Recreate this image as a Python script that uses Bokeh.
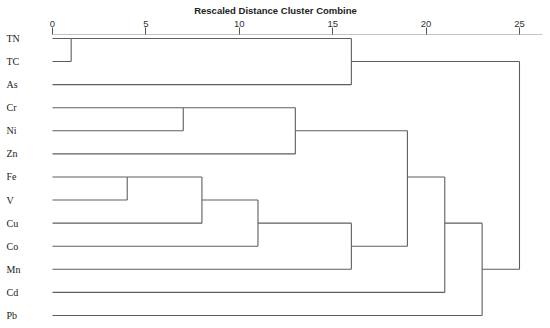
from bokeh.plotting import figure
from bokeh.models import Range1d, LinearAxis, FixedTicker, ColumnDataSource
from bokeh.core.properties import value
from bokeh.embed import file_html
from bokeh.resources import INLINE

# ---- data ----
leaves = ["TN", "TC", "As", "Cr", "Ni", "Zn", "Fe", "V", "Cu", "Co", "Mn", "Cd", "Pb"]
# agglomeration schedule: cluster A, cluster B (leaf name or "m<i>" for i-th merge), rescaled distance
merge_a = ["TN", "Fe", "Cr", "m1", "m3", "m2", "m0", "m4", "m5", "m8", "m9", "m6"]
merge_b = ["TC", "V", "Ni", "Cu", "Co", "Zn", "As", "Mn", "m7", "Cd", "Pb", "m10"]
merge_d = [1, 4, 7, 8, 11, 13, 16, 16, 19, 21, 23, 25]
tick_values = [0, 5, 10, 15, 20, 25]
title_text = "Rescaled Distance Cluster Combine"

# ---- layout of the dendrogram (row positions) ----
nodes = {name: (i, 0) for i, name in enumerate(leaves)}  # name -> (row, dist)
xs0, xs1, ys0, ys1 = [], [], [], []
for i, (a, b, d) in enumerate(zip(merge_a, merge_b, merge_d)):
    ra, da = nodes[a]
    rb, db = nodes[b]
    for r, dd in ((ra, da), (rb, db)):
        xs0.append(dd); xs1.append(d); ys0.append(r); ys1.append(r)
    xs0.append(d); xs1.append(d); ys0.append(ra); ys1.append(rb)
    nodes["m%d" % i] = ((ra + rb) // 2, d)

W, H = 550, 328
p = figure(width=W, height=H, output_backend="svg", toolbar_location=None,
           x_range=Range1d(-2.784, 26.66), y_range=Range1d(12.565, -0.173),
           min_border_left=0, min_border_right=0, min_border_top=34, min_border_bottom=0,
           x_axis_location=None, y_axis_location=None)
p.outline_line_color = None
p.xgrid.visible = False
p.ygrid.visible = False
p.background_fill_color = "white"
p.border_fill_color = "white"

ax = LinearAxis(ticker=FixedTicker(ticks=tick_values), axis_label=title_text,
                bounds=(0, 26.24))
ax.major_tick_out = 7
ax.major_tick_in = 0
ax.minor_tick_out = 0
ax.minor_tick_in = 0
ax.axis_line_color = "#c4c4c4"
ax.major_tick_line_color = "#555555"
ax.major_label_text_font = "Liberation Sans"
ax.major_label_text_font_size = "9.5px"
ax.major_label_text_color = "#333333"
ax.major_label_standoff = 1
ax.axis_label_text_font = "Liberation Sans"
ax.axis_label_text_font_style = "bold"
ax.axis_label_text_font_size = "9.5px"
ax.axis_label_text_color = "#222222"
ax.axis_label_standoff = 2
p.add_layout(ax, "above")

src = ColumnDataSource(dict(x0=xs0, x1=xs1, y0=ys0, y1=ys1))
p.segment(x0="x0", y0="y0", x1="x1", y1="y1", source=src,
          line_color="#5e5e5e", line_width=1.1)

lab_src = ColumnDataSource(dict(x=[0] * len(leaves), y=list(range(len(leaves))), t=leaves))
p.text(x="x", y="y", text="t", source=lab_src, x_offset=-46,
       text_baseline="middle", text_align="left",
       text_font=value("Liberation Serif"), text_font_size="10px", text_color="#222222")

open("out.html", "w").write(file_html(p, INLINE))
